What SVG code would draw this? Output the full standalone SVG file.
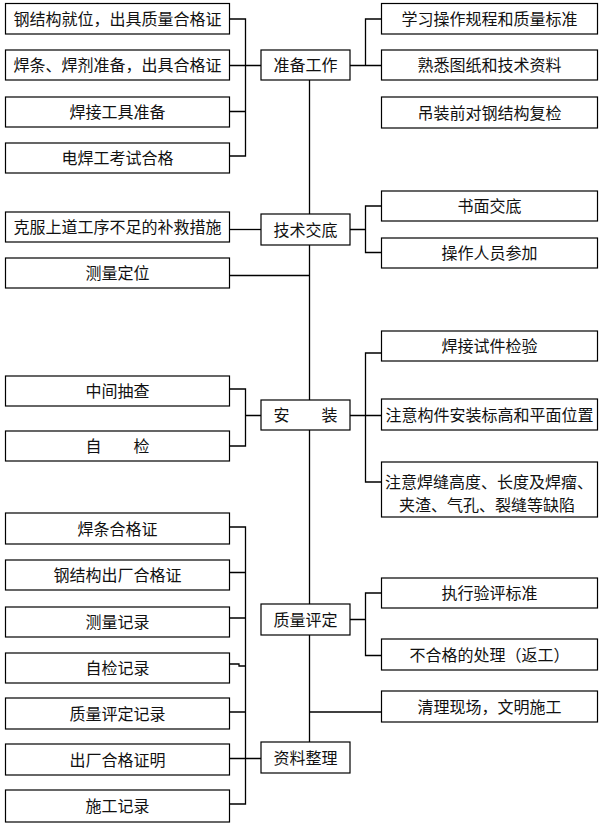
<svg xmlns="http://www.w3.org/2000/svg" width="604" height="826" viewBox="0 0 604 826">
<style>
.b{fill:#fff;stroke:#000;stroke-width:1.2}
.c{fill:none;stroke:#000;stroke-width:1.3}
text{font-family:"Noto Sans CJK SC","Noto Sans",sans-serif;font-size:16px;fill:#111;text-anchor:middle}
</style>
<rect width="604" height="826" fill="#fff"/>
<g id="connectors">
<path class="c" d="M309.5,80V742"/>
<path class="c" d="M229.5,19H245.5V156H229.5M229.5,65.5H261M229.5,111.5H245.5"/>
<path class="c" d="M350,65.5H381.5M365.5,65.5V19H381.5"/>
<path class="c" d="M229.5,229.5H261"/>
<path class="c" d="M350,229.5H365.5M381.5,206H365.5V252.5H381.5"/>
<path class="c" d="M229.5,275.5H309.5"/>
<path class="c" d="M229.5,389H245.5V446H229.5M245.5,415.5H261"/>
<path class="c" d="M350,415.5H381.5M381.5,353H365.5V482H381.5"/>
<path class="c" d="M229.5,527H245.5V804H229.5M229.5,572.5H245.5M229.5,618H245.5M229.5,664H239V666H245.5M229.5,712H245.5M229.5,758.5H261"/>
<path class="c" d="M350,619.5H365.5M381.5,593H365.5V655.5H381.5"/>
<path class="c" d="M309.5,712H381.5"/>
</g>
<g id="n1"><rect class="b" x="5.5" y="3.5" width="224" height="30.5"/><text x="117.5" y="25">钢结构就位，出具质量合格证</text></g>
<g id="n2"><rect class="b" x="5.5" y="50" width="224" height="30"/><text x="117.5" y="71">焊条、焊剂准备，出具合格证</text></g>
<g id="n3"><rect class="b" x="5.5" y="97" width="224" height="30"/><text x="117.5" y="118">焊接工具准备</text></g>
<g id="n4"><rect class="b" x="5.5" y="143" width="224" height="30"/><text x="117.5" y="164">电焊工考试合格</text></g>
<g id="c1"><rect class="b" x="261" y="50" width="89" height="30"/><text x="305.5" y="71">准备工作</text></g>
<g id="r1"><rect class="b" x="381.5" y="3.5" width="216" height="30.5"/><text x="489.5" y="25">学习操作规程和质量标准</text></g>
<g id="r2"><rect class="b" x="381.5" y="50" width="216" height="30"/><text x="489.5" y="71">熟悉图纸和技术资料</text></g>
<g id="r3"><rect class="b" x="381.5" y="97" width="216" height="31"/><text x="489.5" y="118.5">吊装前对钢结构复检</text></g>
<g id="n5"><rect class="b" x="5.5" y="212" width="224" height="30"/><text x="117.5" y="233">克服上道工序不足的补救措施</text></g>
<g id="c2"><rect class="b" x="261" y="214" width="89" height="31"/><text x="305.5" y="235.5">技术交底</text></g>
<g id="r4"><rect class="b" x="381.5" y="191" width="216" height="30"/><text x="489.5" y="212">书面交底</text></g>
<g id="r5"><rect class="b" x="381.5" y="238" width="216" height="30"/><text x="489.5" y="259">操作人员参加</text></g>
<g id="n6"><rect class="b" x="5.5" y="258" width="224" height="30"/><text x="117.5" y="279">测量定位</text></g>
<g id="n7"><rect class="b" x="5.5" y="376" width="224" height="30"/><text x="117.5" y="397">中间抽查</text></g>
<g id="n8"><rect class="b" x="5.5" y="431" width="224" height="30"/><text x="117.5" y="452">自　　检</text></g>
<g id="c3"><rect class="b" x="261" y="400" width="89" height="30"/><text x="305.5" y="421">安　　装</text></g>
<g id="r6"><rect class="b" x="381.5" y="331" width="216" height="30"/><text x="489.5" y="352">焊接试件检验</text></g>
<g id="r7"><rect class="b" x="381.5" y="399" width="216" height="31"/><text x="489.5" y="420.5">注意构件安装标高和平面位置</text></g>
<g id="r8"><rect class="b" x="381.5" y="462" width="216" height="55"/><text x="489" y="488">注意焊缝高度、长度及焊瘤、</text><text x="487" y="511">夹渣、气孔、裂缝等缺陷</text></g>
<g id="n9"><rect class="b" x="5.5" y="513" width="224" height="31"/><text x="117.5" y="534.5">焊条合格证</text></g>
<g id="n10"><rect class="b" x="5.5" y="560" width="224" height="30"/><text x="117.5" y="581">钢结构出厂合格证</text></g>
<g id="n11"><rect class="b" x="5.5" y="607" width="224" height="30"/><text x="117.5" y="628">测量记录</text></g>
<g id="n12"><rect class="b" x="5.5" y="653" width="224" height="30"/><text x="117.5" y="674">自检记录</text></g>
<g id="n13"><rect class="b" x="5.5" y="698" width="224" height="31"/><text x="117.5" y="719.5">质量评定记录</text></g>
<g id="n14"><rect class="b" x="5.5" y="744" width="224" height="31"/><text x="117.5" y="765.5">出厂合格证明</text></g>
<g id="n15"><rect class="b" x="5.5" y="790" width="224" height="32"/><text x="117.5" y="812">施工记录</text></g>
<g id="c4"><rect class="b" x="261" y="604" width="89" height="31"/><text x="305.5" y="625.5">质量评定</text></g>
<g id="r9"><rect class="b" x="381.5" y="578" width="216" height="30"/><text x="489.5" y="599">执行验评标准</text></g>
<g id="r10"><rect class="b" x="381.5" y="639" width="216" height="31"/><text x="489.5" y="660.5">不合格的处理（返工）</text></g>
<g id="r11"><rect class="b" x="381.5" y="691" width="216" height="31"/><text x="489.5" y="712.5">清理现场，文明施工</text></g>
<g id="c5"><rect class="b" x="261" y="742" width="89" height="31"/><text x="305.5" y="763.5">资料整理</text></g>
</svg>
